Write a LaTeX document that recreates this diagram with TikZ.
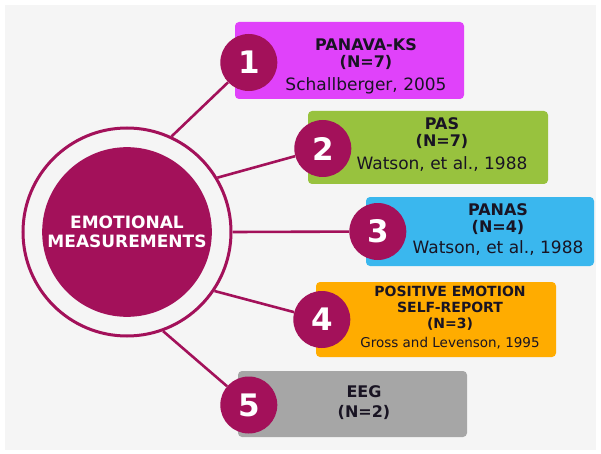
\documentclass[tikz,border=0pt]{standalone}
\usepackage{fontspec}
\setmainfont{DejaVu Sans}
\usetikzlibrary{positioning}
\definecolor{berry}{RGB}{163,17,90}
\definecolor{paper}{RGB}{245,245,245}
\definecolor{ink}{RGB}{25,20,35}
\definecolor{boxpink}{RGB}{224,66,250}
\definecolor{boxgreen}{RGB}{152,194,62}
\definecolor{boxblue}{RGB}{58,183,238}
\definecolor{boxorange}{RGB}{255,172,0}
\definecolor{boxgrey}{RGB}{166,166,166}
\newcommand{\refline}[2]{{\mdseries\fontsize{#1}{#1}\selectfont #2}}

\begin{document}
\begin{tikzpicture}[x=1pt,y=-1pt]
  \tikzstyle{box}=[rounded corners=4pt,inner sep=0pt]
  \tikzstyle{num}=[circle,fill=berry,minimum size=57pt,inner sep=0pt,text=white,font=\fontsize{31}{31}\selectfont\bfseries]
  \tikzstyle{txt}=[align=center,text=ink,inner sep=0pt,font=\fontsize{16}{17}\selectfont\bfseries]
  \tikzstyle{link}=[draw=berry,line width=2.6pt]
  \useasboundingbox (0,0) rectangle (601,454);
  \fill[paper] (5,5) rectangle (596,450);

  \node[circle,draw=berry,line width=3pt,minimum size=208pt] (ring) at (127,232) {};
  \node[circle,fill=berry,minimum size=168pt,text=white,align=center,font=\fontsize{17}{19}\selectfont\bfseries] (core) at (127,232) {EMOTIONAL\\MEASUREMENTS};

  \node[box,fill=boxpink,minimum width=229pt,minimum height=77pt] (pk) at (349.5,60.5) {};
  \node[box,fill=boxgreen,minimum width=240pt,minimum height=73pt] (pas) at (428,147.5) {};
  \node[box,fill=boxblue,minimum width=228pt,minimum height=69pt] (panas) at (480,231.5) {};
  \node[box,fill=boxorange,minimum width=240pt,minimum height=75pt] (pos) at (436,319.5) {};
  \node[box,fill=boxgrey,minimum width=229pt,minimum height=66pt] (eeg) at (352.5,404) {};

  \node[txt] (pkt) at (366,66) {PANAVA-KS\\(N=7)\\[6pt]\refline{17}{Schallberger, 2005}};
  \node[txt] (past) at (442,145) {PAS\\(N=7)\\[6pt]\refline{17}{Watson, et al., 1988}};
  \node[txt] (panast) at (498,230) {PANAS\\(N=4)\\[4pt]\refline{17}{Watson, et al., 1988}};
  \node[txt,font=\fontsize{14}{16}\selectfont\bfseries] (post) at (450,318) {POSITIVE EMOTION\\SELF-REPORT\\(N=3)\\[3pt]\refline{13.5}{Gross and Levenson, 1995}};
  \node[txt,font=\fontsize{16}{20}\selectfont\bfseries] (eegt) at (364,403) {EEG\\(N=2)};

  \node[num] (n1) at ([xshift=14pt,yshift=-2pt]pk.west) {1};
  \node[num] (n2) at ([xshift=15pt,yshift=-1pt]pas.west) {2};
  \node[num] (n3) at ([xshift=12pt]panas.west) {3};
  \node[num] (n4) at ([xshift=6pt]pos.west) {4};
  \node[num] (n5) at ([xshift=11pt,yshift=-1pt]eeg.west) {5};

  \draw[link] (ring.65) -- (n1);
  \draw[link] (ring.31) -- (n2);
  \draw[link] (ring.0) -- (n3);
  \draw[link] (ring.-34) -- (n4);
  \draw[link] (ring.-70) -- (n5);
\end{tikzpicture}
\end{document}
